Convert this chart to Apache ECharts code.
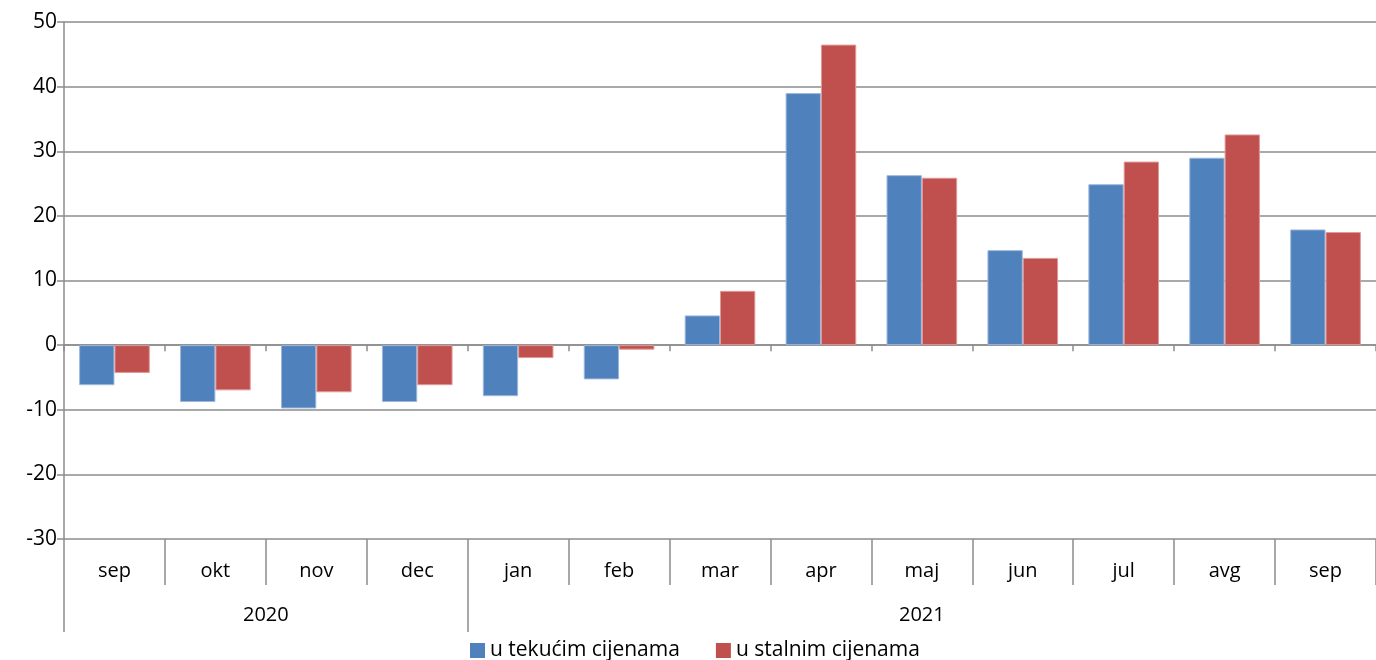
<!DOCTYPE html>
<html><head><meta charset="utf-8">
<script src="https://cdn.jsdelivr.net/npm/echarts@6/dist/echarts.min.js"></script>
<style>html,body{margin:0;padding:0;background:#fff}#c{width:1376px;height:660px}</style>
</head><body><div id="c"></div>
<script>
var months = ['sep','okt','nov','dec','jan','feb','mar','apr','maj','jun','jul','avg','sep'];
var yearLabels = ['2020','2021'];
var yearStarts = [0, 4];
var yearCenters = [2, 8.5];
var tekuce = [-6.2,-8.8,-9.8,-8.8,-7.9,-5.3,4.6,39.0,26.3,14.7,24.9,29.0,17.9];
var stalne = [-4.3,-7.0,-7.3,-6.2,-2.0,-0.7,8.4,46.5,25.9,13.5,28.4,32.6,17.5];
var seriesNames = ['u tekućim cijenama','u stalnim cijenama'];
var yTicks = {min:-30, max:50, interval:10};

var font = 'Open Sans';
var gray = '#8c8c8c';
var fs = 20;
var chart = echarts.init(document.getElementById('c'));
chart.setOption({
  animation:false,
  textStyle:{fontFamily:font},
  grid:{left:64,right:0,top:22,bottom:121,containLabel:false},
  legend:{
    left:465, bottom:-6, itemWidth:15, itemHeight:15, itemGap:36,
    icon:'rect',
    itemStyle:{borderWidth:0},
    textStyle:{fontFamily:font,fontSize:21,color:'#000'},
    data:seriesNames
  },
  xAxis:[
    {type:'category',data:months,position:'bottom',
     axisLine:{onZero:true,lineStyle:{color:gray,width:1.5}},
     axisTick:{show:true,length:6,lineStyle:{color:gray,width:1.5}},
     axisLabel:{show:false},splitLine:{show:false}},
    {type:'category',data:months,position:'bottom',
     axisLine:{show:false,onZero:false},
     axisTick:{show:true,interval:0,length:46,lineStyle:{color:gray,width:1.5}},
     axisLabel:{show:true,interval:0,margin:22,fontSize:fs,color:'#000',fontFamily:font},
     splitLine:{show:false}},
    {type:'value',min:0,max:13,position:'bottom',
     axisLine:{show:false,onZero:false},
     axisTick:{show:true,customValues:yearStarts,length:93,lineStyle:{color:gray,width:1.5}},
     axisLabel:{show:true,customValues:yearCenters,margin:66,fontSize:fs,color:'#000',fontFamily:font,
       formatter:function(v){var i=yearCenters.indexOf(v);return i>=0?yearLabels[i]:'';}},
     splitLine:{show:false}}
  ],
  yAxis:{type:'value',min:yTicks.min,max:yTicks.max,interval:yTicks.interval,
    axisLine:{show:true,lineStyle:{color:gray,width:1.5}},
    axisTick:{show:true,length:7,lineStyle:{color:gray,width:1.5}},
    axisLabel:{fontSize:21,color:'#000',margin:7,fontFamily:font},
    splitLine:{show:true,lineStyle:{color:gray,width:1.5}}},
  series:[
    {name:seriesNames[0],type:'bar',data:tekuce,xAxisIndex:0,barGap:'0%',barCategoryGap:'30%',
     itemStyle:{color:'#4F81BD',borderColor:'#9db8dc',borderWidth:1}},
    {name:seriesNames[1],type:'bar',data:stalne,xAxisIndex:0,barGap:'0%',barCategoryGap:'30%',
     itemStyle:{color:'#C0504D',borderColor:'#e09a98',borderWidth:1}}
  ]
});
</script></body></html>
